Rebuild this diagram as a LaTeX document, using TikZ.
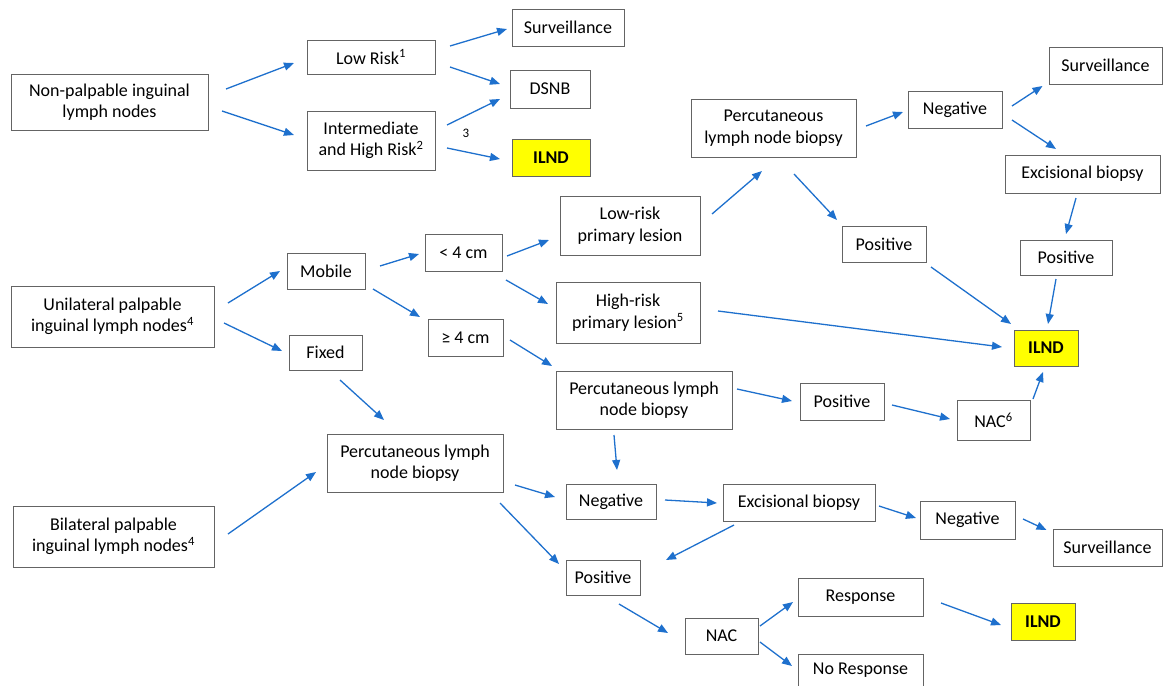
\documentclass[tikz,border=0pt]{standalone}
\usepackage{fontspec}
\setmainfont{Carlito}
\usetikzlibrary{arrows.meta,calc}
\definecolor{arrblue}{RGB}{30,112,205}
\definecolor{boxgray}{RGB}{100,100,100}
\definecolor{hiyellow}{RGB}{255,255,0}
\tikzset{
  box/.style={draw=boxgray,line width=1pt,fill=white,inner sep=0pt,align=center,
    font=\fontsize{18}{21.5}\selectfont},
  hibox/.style={box,fill=hiyellow,font=\fontsize{18}{21.5}\selectfont\bfseries},
  arr/.style={draw=arrblue,line width=1.3pt,-{Triangle[length=10pt,width=8pt]}},
}
\newcommand\bx[7][box]{%
  \node[#1,minimum width={(#5-#3)*1pt},minimum height={(#6-#4)*1pt}] (#2) at ({(#3+#5)/2},{(#4+#6)/2}) {#7};}
\newcommand\ar[6]{\draw[arr] ($(#1)+(#2,#3)$) -- ($(#4)+(#5,#6)$);}
\begin{document}
\begin{tikzpicture}[x=1pt,y=-1pt]
\useasboundingbox (0,0) rectangle (1163,686);
% nodes
\bx{np}{11}{74}{208}{130}{Non-palpable inguinal\\lymph nodes}
\bx{low}{307}{40}{435}{74}{Low Risk\textsuperscript{1}}
\bx{inter}{307}{111}{435}{170}{Intermediate\\and High Risk\textsuperscript{2}}
\bx{surv1}{512}{9}{624}{46}{Surveillance}
\bx{dsnb}{510}{70}{590}{108}{DSNB}
\bx[hibox]{ilnd1}{512}{139}{590}{176}{ILND}
\node[font=\fontsize{13}{15}\selectfont,inner sep=0pt] (fn3) at (466,133) {3};
\bx{perc1}{691}{99}{856}{157}{Percutaneous\\lymph node biopsy}
\bx{neg1}{908}{91}{1002}{128}{Negative}
\bx{surv2}{1049}{47}{1162}{84}{Surveillance}
\bx{exc1}{1005}{155}{1160}{193}{Excisional biopsy}
\bx{pos2}{1020}{240}{1112}{275}{Positive}
\bx{pos1}{842}{226}{926}{262}{Positive}
\bx[hibox]{ilnd2}{1014}{330}{1078}{366}{ILND}
\bx{uni}{11}{286}{214}{347}{Unilateral palpable\\inguinal lymph nodes\textsuperscript{4}}
\bx{mob}{287}{253}{365}{289}{Mobile}
\bx{fix}{289}{335}{362}{370}{Fixed}
\bx{lt4}{425}{234}{502}{271}{< 4 cm}
\bx{ge4}{428}{319}{503}{356}{≥ 4 cm}
\bx{lrp}{560}{196}{700}{255}{Low-risk\\primary lesion}
\bx{hrp}{556}{282}{700}{343}{High-risk\\primary lesion\textsuperscript{5}}
\bx{perc2}{556}{371}{732}{429}{Percutaneous lymph\\node biopsy}
\bx{pos3}{800}{383}{884}{420}{Positive}
\bx{nac6}{957}{400}{1030}{440}{NAC\textsuperscript{6}}
\bx{perc3}{327}{434}{503}{492}{Percutaneous lymph\\node biopsy}
\bx{bil}{13}{506}{214}{567}{Bilateral palpable\\inguinal lymph nodes\textsuperscript{4}}
\bx{neg2}{566}{484}{656}{519}{Negative}
\bx{exc2}{723}{484}{875}{521}{Excisional biopsy}
\bx{neg3}{920}{501}{1015}{539}{Negative}
\bx{surv3}{1053}{529}{1162}{566}{Surveillance}
\bx{pos4}{566}{560}{640}{595}{Positive}
\bx{nac}{685}{618}{758}{654}{NAC}
\bx{resp}{798}{578}{923}{616}{Response}
\bx[hibox]{ilnd3}{1011}{603}{1075}{640}{ILND}
\bx{nresp}{798}{654}{923}{686}{No Response}
% arrows
\ar{np}{116.5}{-13}{low}{-77}{6}
\ar{np}{112.5}{9}{inter}{-77}{-5.5}
\ar{low}{79}{-11}{surv1}{-61}{1.5}
\ar{low}{79}{10}{dsnb}{-50}{-5}
\ar{inter}{76}{-15.5}{dsnb}{-50}{10}
\ar{inter}{76}{7.5}{ilnd1}{-51}{1.5}
\ar{uni}{115.5}{-13.5}{mob}{-46}{0}
\ar{uni}{111.5}{6.5}{fix}{-43.5}{-1.5}
\ar{mob}{54}{-5}{lt4}{-44.5}{1.5}
\ar{mob}{47}{18}{ge4}{-45.5}{-20.5}
\ar{lt4}{43.5}{3.5}{lrp}{-81}{14.5}
\ar{lt4}{42.5}{27.5}{hrp}{-80}{-8.5}
\ar{ge4}{44.5}{2.5}{perc2}{-92}{-34}
\ar{fix}{14.5}{27.5}{perc3}{-31}{-43}
\ar{bil}{114.5}{-2.5}{perc3}{-99}{9}
\ar{lrp}{82}{-11.5}{perc1}{-11.5}{43}
\ar{perc1}{92.5}{-2}{neg1}{-52}{2.5}
\ar{perc1}{20.5}{46}{pos1}{-47}{-24}
\ar{neg1}{57}{-3.5}{surv2}{-63}{20.5}
\ar{neg1}{57}{10.5}{exc1}{-26.5}{-25}
\ar{exc1}{-6.5}{24}{pos2}{0}{-23.5}
\ar{pos2}{-10}{21.5}{ilnd2}{2}{-24}
\ar{pos1}{47}{23}{ilnd2}{-35}{-24}
\ar{hrp}{90}{-1.5}{ilnd2}{-44}{-1}
\ar{perc2}{93}{-11}{pos3}{-50}{-0.5}
\ar{pos3}{50}{3.5}{nac6}{-43.5}{-1}
\ar{nac6}{39.5}{-21}{ilnd2}{-3}{24}
\ar{perc2}{-30}{35}{neg2}{6}{-31.5}
\ar{perc3}{100}{22}{neg2}{-56}{-4.5}
\ar{perc3}{85}{40}{pos4}{-44}{-13.5}
\ar{neg2}{54}{-1.5}{exc2}{-82}{0.5}
\ar{exc2}{-65}{22.5}{pos4}{63}{-17.5}
\ar{exc2}{80}{3.5}{neg3}{-51.5}{-2}
\ar{neg3}{55.5}{-1}{surv3}{-61}{-17.5}
\ar{pos4}{16}{26.5}{nac}{-53.5}{-3}
\ar{nac}{38.5}{-10}{resp}{-67.5}{5}
\ar{nac}{38.5}{6}{nresp}{-68.5}{-4}
\ar{resp}{80.5}{6}{ilnd3}{-42}{3.5}
\end{tikzpicture}
\end{document}
